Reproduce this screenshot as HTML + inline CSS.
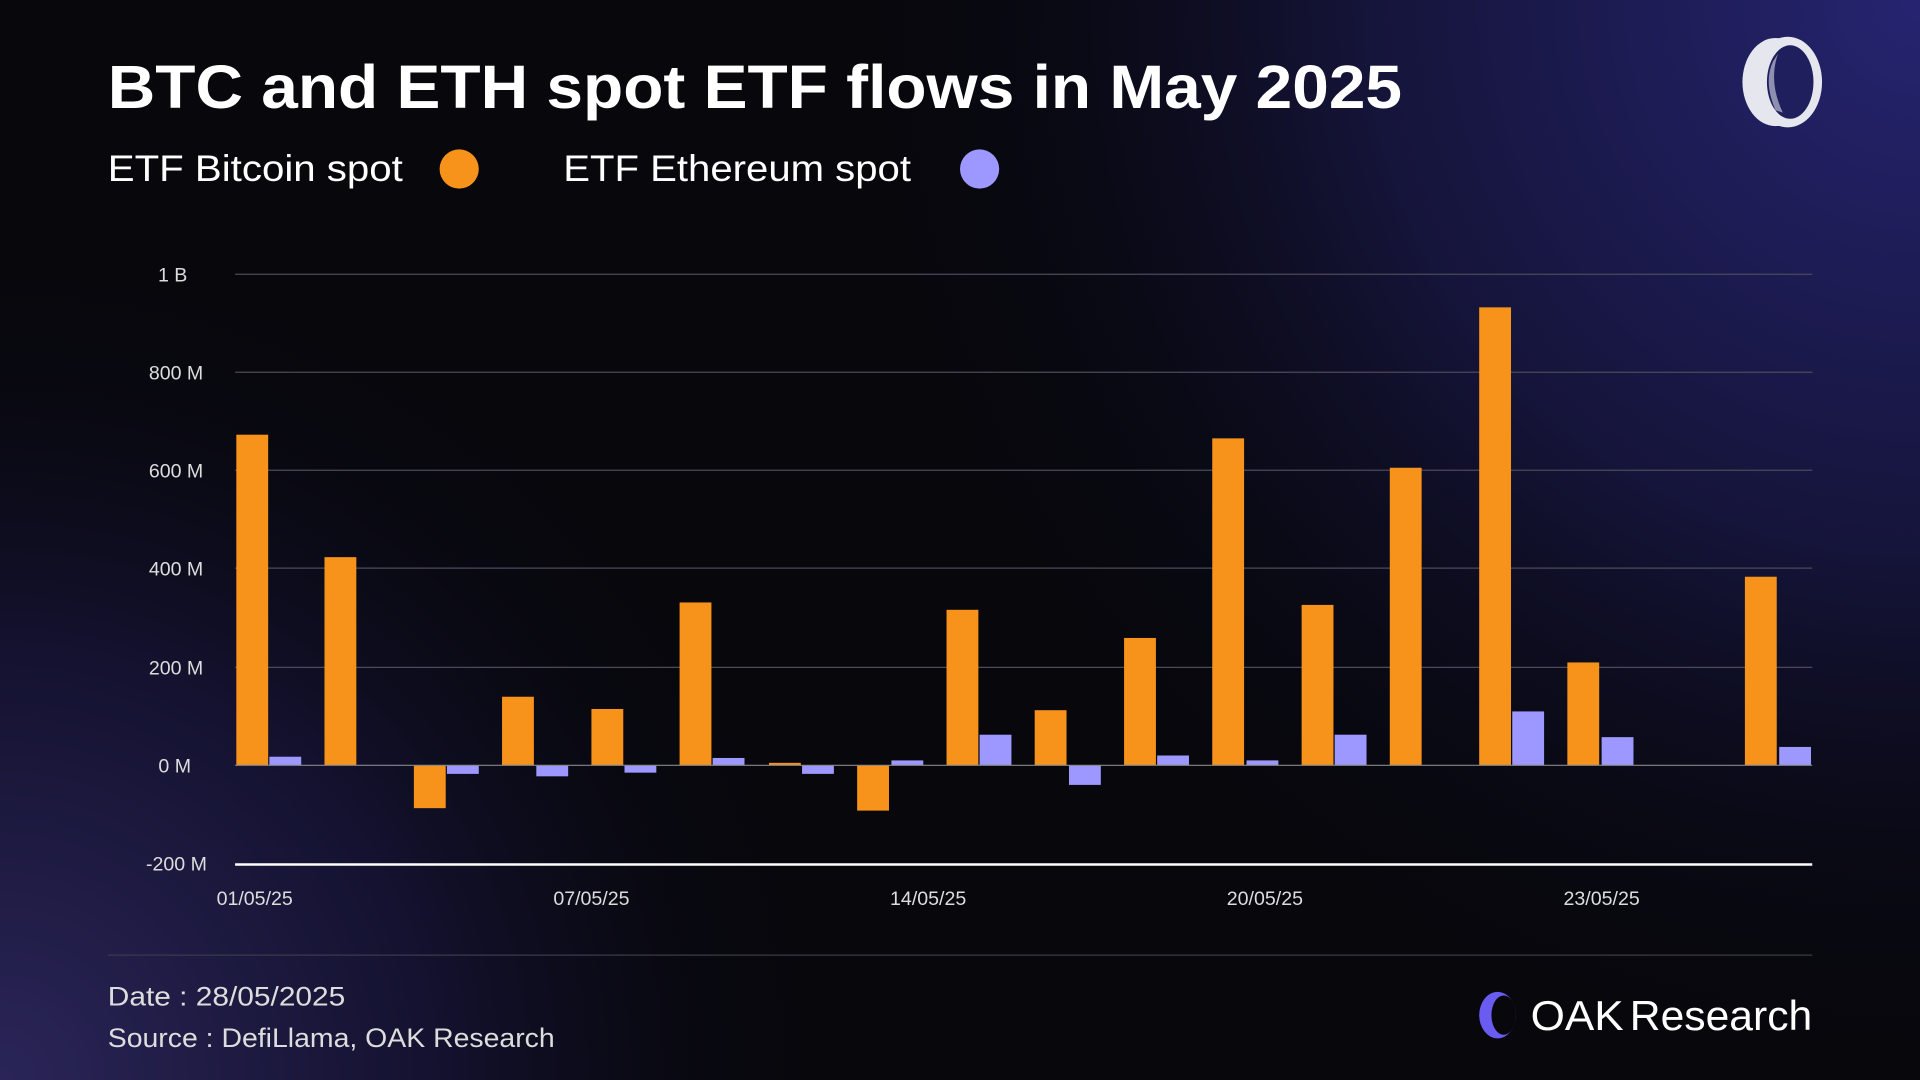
<!DOCTYPE html>
<html><head><meta charset="utf-8"><style>
html,body{margin:0;padding:0;width:1920px;height:1080px;overflow:hidden;background:#07070c}
svg{display:block}
text{font-family:"Liberation Sans",sans-serif}
</style></head><body>
<svg width="1920" height="1080" viewBox="0 0 1568 882" xmlns="http://www.w3.org/2000/svg">
<defs>
<radialGradient id="g1" cx="1568" cy="0" r="900" gradientUnits="userSpaceOnUse">
<stop offset="0" stop-color="#262470"/><stop offset="0.5" stop-color="#15143a"/><stop offset="1" stop-color="#07070c" stop-opacity="0"/></radialGradient>
<radialGradient id="g2" cx="0" cy="882" r="700" gradientUnits="userSpaceOnUse">
<stop offset="0" stop-color="#2a2558"/><stop offset="0.5" stop-color="#141230"/><stop offset="1" stop-color="#07070c" stop-opacity="0"/></radialGradient>
</defs>
<rect width="1568" height="882" fill="#07070c"/>
<rect width="1568" height="882" fill="url(#g1)"/>
<rect width="1568" height="882" fill="url(#g2)"/>

<text x="88" y="88" font-size="50" font-weight="bold" fill="#fff" textLength="1057" lengthAdjust="spacingAndGlyphs">BTC and ETH spot ETF flows in May 2025</text>
<text x="88" y="148" font-size="30" fill="#fff" textLength="241" lengthAdjust="spacingAndGlyphs">ETF Bitcoin spot</text>
<circle cx="375" cy="138" r="16" fill="#f7931a"/>
<text x="460" y="148" font-size="30" fill="#fff" textLength="284" lengthAdjust="spacingAndGlyphs">ETF Ethereum spot</text>
<circle cx="800" cy="138" r="16" fill="#9d98ff"/>

<ellipse cx="1450" cy="67" rx="27" ry="36" fill="#e6e6ee"/>
<ellipse cx="1460" cy="67" rx="28" ry="37" fill="#e6e6ee"/>
<ellipse cx="1462" cy="67" rx="19" ry="30" fill="#201f5e"/>
<path d="M1448 50 Q1440 67 1450 90 L1456 92 Q1444 67 1452 44Z" fill="#8f8fb0"/>

<g stroke="#4a4a5a" stroke-width="1">
<line x1="192" y1="224" x2="1480" y2="224"/>
<line x1="192" y1="304" x2="1480" y2="304"/>
<line x1="192" y1="384" x2="1480" y2="384"/>
<line x1="192" y1="464" x2="1480" y2="464"/>
<line x1="192" y1="545" x2="1480" y2="545"/>
</g>
<line x1="192" y1="706" x2="1480" y2="706" stroke="#fff" stroke-width="2"/>
<g font-size="16" fill="#ddd" text-anchor="end">
<text x="153" y="230">1 B</text>
<text x="166" y="310">800 M</text>
<text x="166" y="390">600 M</text>
<text x="166" y="470">400 M</text>
<text x="166" y="551">200 M</text>
<text x="156" y="631">0 M</text>
<text x="169" y="711">-200 M</text>
</g>
<g font-size="16" fill="#ddd" text-anchor="middle">
<text x="208" y="739">01/05/25</text>
<text x="483" y="739">07/05/25</text>
<text x="758" y="739">14/05/25</text>
<text x="1033" y="739">20/05/25</text>
<text x="1308" y="739">23/05/25</text>
</g>

<g fill="#f7931a">
<rect x="193" y="355" width="26" height="270"/>
<rect x="265" y="455" width="26" height="170"/>
<rect x="338" y="625" width="26" height="35"/>
<rect x="410" y="569" width="26" height="56"/>
<rect x="483" y="579" width="26" height="46"/>
<rect x="555" y="492" width="26" height="133"/>
<rect x="628" y="623" width="26" height="2"/>
<rect x="700" y="625" width="26" height="37"/>
<rect x="773" y="498" width="26" height="127"/>
<rect x="845" y="580" width="26" height="45"/>
<rect x="918" y="521" width="26" height="104"/>
<rect x="990" y="358" width="26" height="267"/>
<rect x="1063" y="494" width="26" height="131"/>
<rect x="1135" y="382" width="26" height="243"/>
<rect x="1208" y="251" width="26" height="374"/>
<rect x="1280" y="541" width="26" height="84"/>
<rect x="1425" y="471" width="26" height="154"/>
</g>
<g fill="#9d98ff">
<rect x="220" y="618" width="26" height="7"/>
<rect x="365" y="625" width="26" height="7"/>
<rect x="438" y="625" width="26" height="9"/>
<rect x="510" y="625" width="26" height="6"/>
<rect x="582" y="619" width="26" height="6"/>
<rect x="655" y="625" width="26" height="7"/>
<rect x="728" y="621" width="26" height="4"/>
<rect x="800" y="600" width="26" height="25"/>
<rect x="873" y="625" width="26" height="16"/>
<rect x="945" y="617" width="26" height="8"/>
<rect x="1018" y="621" width="26" height="4"/>
<rect x="1090" y="600" width="26" height="25"/>
<rect x="1235" y="581" width="26" height="44"/>
<rect x="1308" y="602" width="26" height="23"/>
<rect x="1453" y="610" width="26" height="15"/>
</g>
<line x1="192" y1="625" x2="1480" y2="625" stroke="#888" stroke-width="1"/>

<line x1="88" y1="780" x2="1480" y2="780" stroke="#3a3a4a" stroke-width="1"/>
<text x="88" y="821" font-size="22" fill="#ddd" textLength="194" lengthAdjust="spacingAndGlyphs">Date : 28/05/2025</text>
<text x="88" y="855" font-size="22" fill="#ddd" textLength="365" lengthAdjust="spacingAndGlyphs">Source : DefiLlama, OAK Research</text>

<ellipse cx="1223" cy="829" rx="15" ry="19" fill="#6a5cf0"/>
<ellipse cx="1228" cy="829" rx="10" ry="16" fill="#07070c"/>
<text x="1250" y="841" font-size="34" fill="#fff" textLength="76" lengthAdjust="spacingAndGlyphs">OAK</text>
<text x="1331" y="841" font-size="34" fill="#fff" textLength="149" lengthAdjust="spacingAndGlyphs">Research</text>
</svg>
</body></html>
